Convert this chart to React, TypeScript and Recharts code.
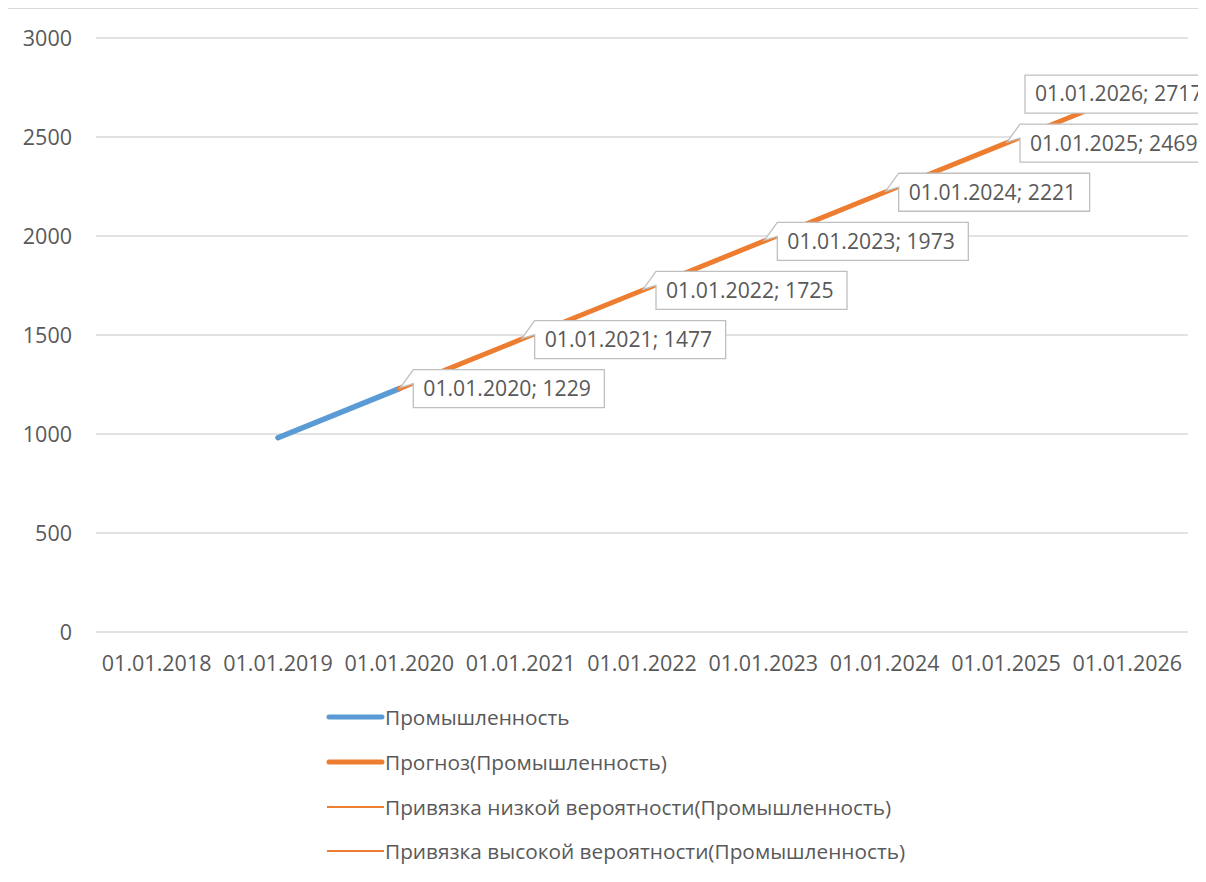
import React from 'react';
import { LineChart, Line, XAxis, YAxis, CartesianGrid, Legend, LabelList } from 'recharts';

const categories = ['01.01.2018', '01.01.2019', '01.01.2020', '01.01.2021', '01.01.2022', '01.01.2023', '01.01.2024', '01.01.2025', '01.01.2026'];
const actual = [null, 981, 1229, null, null, null, null, null, null];
const forecast = [null, null, 1229, 1477, 1725, 1973, 2221, 2469, 2717];
const lowBound = [null, null, 1229, 1477, 1725, 1973, 2221, 2469, 2717];
const highBound = [null, null, 1229, 1477, 1725, 1973, 2221, 2469, 2717];
const yTicks = [0, 500, 1000, 1500, 2000, 2500, 3000];

const seriesKeys = ['actual', 'forecast', 'low', 'high'];
const seriesNames: Record<string, string> = {
  actual: 'Промышленность',
  forecast: 'Прогноз(Промышленность)',
  low: 'Привязка низкой вероятности(Промышленность)',
  high: 'Привязка высокой вероятности(Промышленность)',
};

const data = categories.map((c, i) => ({
  date: c,
  actual: actual[i],
  forecast: forecast[i],
  low: lowBound[i],
  high: highBound[i],
  lbl: forecast[i] == null ? null : `${c}; ${forecast[i]}`,
}));

const FONT = '"Open Sans", "Noto Sans", sans-serif';
const TEXT = '#595959';
const BLUE = '#5B9BD5';
const ORANGE = '#ED7D31';
const CHART_W = 1214;
const CHART_H = 874;
const X_AXIS_H = 30;

const BOX_W = 191;
const BOX_H = 38;

const CalloutLabel = (props: any) => {
  const { x, y, value } = props;
  if (value == null || x == null || y == null) return null;
  let left = x + 14;
  let pointer = true;
  if (left + BOX_W > CHART_W) {
    left = CHART_W - BOX_W - 6;
    pointer = false;
  }
  const top = y - BOX_H / 2;
  const d = pointer
    ? `M${left},${top} H${left + BOX_W} V${top + BOX_H} H${left} V${top + 14} L${x + 1},${y - 1} Z`
    : `M${left},${top} H${left + BOX_W} V${top + BOX_H} H${left} Z`;
  return (
    <g>
      <path d={d} fill="#ffffff" stroke="#bfbfbf" strokeWidth={1.3} />
      <text x={left + 10} y={y} dy="0.35em" fill={TEXT} fontFamily={FONT} fontSize={21.2}>
        {value}
      </text>
    </g>
  );
};

const LegendContent = (props: any) => {
  const { payload } = props;
  if (!payload) return null;
  const sorted = [...payload].sort(
    (a: any, b: any) => seriesKeys.indexOf(String(a.dataKey)) - seriesKeys.indexOf(String(b.dataKey))
  );
  return (
    <div style={{ fontFamily: FONT, fontSize: 20.8, color: TEXT }}>
      {sorted.map((entry: any, i: number) => {
        const thick = entry.dataKey === 'actual' || entry.dataKey === 'forecast';
        return (
          <div key={i} style={{ display: 'flex', alignItems: 'center', height: 44.7, whiteSpace: 'nowrap' }}>
            <svg width={59} height={10} style={{ display: 'block' }}>
              <line
                x1={thick ? 3 : 1}
                y1={5}
                x2={thick ? 56 : 58}
                y2={5}
                stroke={entry.color}
                strokeWidth={thick ? 5 : 2}
                strokeLinecap={thick ? 'round' : 'butt'}
              />
            </svg>
            <span>{entry.value}</span>
          </div>
        );
      })}
    </div>
  );
};

export default function App() {
  return (
    <div
      style={{
        position: 'relative',
        marginLeft: -1,
        width: 1199,
        height: CHART_H,
        overflow: 'hidden',
        borderLeft: '1px solid #d9d9d9',
        borderTop: '1px solid #d9d9d9',
        background: '#ffffff',
      }}
    >
      <LineChart
        width={CHART_W}
        height={CHART_H}
        data={data}
        margin={{ top: 29, right: CHART_W - 1180, left: 0, bottom: CHART_H - 623 - X_AXIS_H }}
      >
        <CartesianGrid vertical={false} stroke="#d9d9d9" strokeWidth={1.3} />
        <XAxis
          dataKey="date"
          scale="band"
          height={X_AXIS_H}
          axisLine={false}
          tickLine={false}
          tickSize={0}
          tickMargin={24}
          interval={0}
          tick={{ fill: TEXT, fontFamily: FONT, fontSize: 21.5 }}
        />
        <YAxis
          width={88}
          domain={[0, 3000]}
          ticks={yTicks}
          axisLine={false}
          tickLine={false}
          tickSize={0}
          tickMargin={24}
          tick={{ fill: TEXT, fontFamily: FONT, fontSize: 21.5 }}
        />
        <Legend
          layout="vertical"
          align="center"
          verticalAlign="middle"
          content={<LegendContent />}
          wrapperStyle={{ left: 318, top: 686, width: 800, height: 190 }}
        />
        <Line
          dataKey="actual"
          name={seriesNames.actual}
          stroke={BLUE}
          strokeWidth={5.5}
          strokeLinecap="round"
          dot={false}
          activeDot={false}
          isAnimationActive={false}
        />
        <Line
          dataKey="forecast"
          name={seriesNames.forecast}
          stroke={ORANGE}
          strokeWidth={5}
          strokeLinecap="round"
          dot={false}
          activeDot={false}
          isAnimationActive={false}
        />
        <Line
          dataKey="low"
          name={seriesNames.low}
          stroke={ORANGE}
          strokeWidth={2}
          dot={false}
          activeDot={false}
          isAnimationActive={false}
        />
        <Line
          dataKey="high"
          name={seriesNames.high}
          stroke={ORANGE}
          strokeWidth={2}
          dot={false}
          activeDot={false}
          isAnimationActive={false}
        >
          <LabelList dataKey="lbl" content={<CalloutLabel />} />
        </Line>
      </LineChart>
    </div>
  );
}
